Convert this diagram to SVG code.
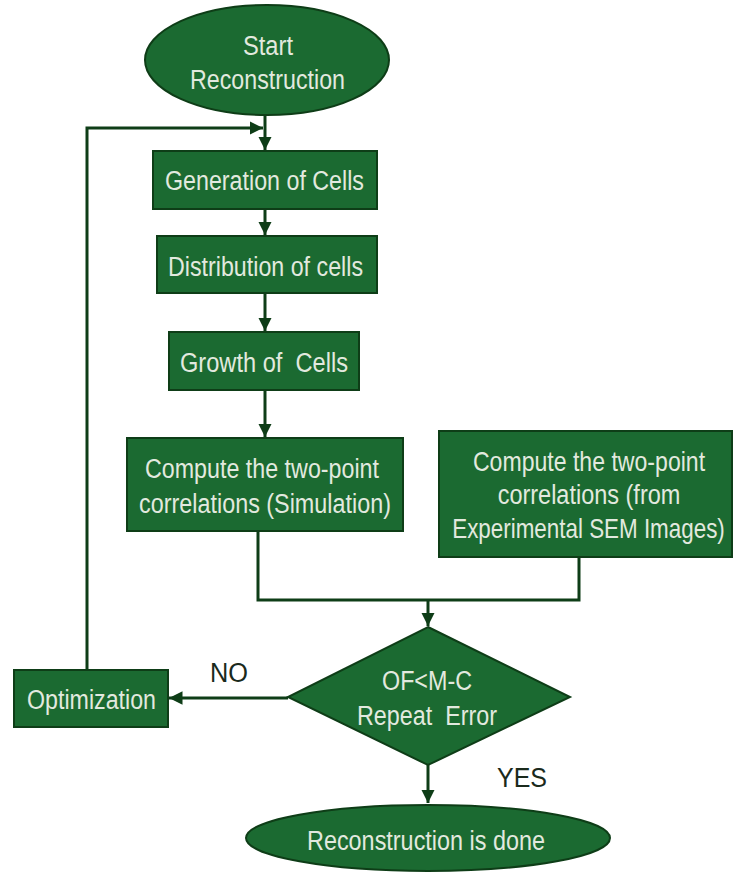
<svg xmlns="http://www.w3.org/2000/svg" width="736" height="873" viewBox="0 0 736 873">
<style>
.n{fill:#1b6a31;stroke:#0e3d17;stroke-width:2}
.t{font-family:"Liberation Sans",Arial,sans-serif;font-size:27px;fill:#e2e9df;text-anchor:middle}
.l{font-family:"Liberation Sans",Arial,sans-serif;font-size:27px;fill:#1a2a1c;text-anchor:middle}
.c{fill:none;stroke:#0e3d17;stroke-width:3}
</style>
<defs>
<marker id="ah" viewBox="0 0 10 10" refX="10" refY="5" markerWidth="4.5" markerHeight="4.5" orient="auto" markerUnits="strokeWidth">
<path d="M0,0 L10,5 L0,10 z" fill="#0e3d17"/>
</marker>
</defs>
<rect width="736" height="873" fill="#ffffff"/>
<g id="connectors">
<path class="c" d="M265,115 V150" marker-end="url(#ah)"/>
<path class="c" d="M87,670 V128 H263" marker-end="url(#ah)"/>
<path class="c" d="M265,209 V235" marker-end="url(#ah)"/>
<path class="c" d="M265,293 V331" marker-end="url(#ah)"/>
<path class="c" d="M265,390 V437" marker-end="url(#ah)"/>
<path class="c" d="M258,531 V600 H579 V557"/>
<path class="c" d="M428,600 V626" marker-end="url(#ah)"/>
<path class="c" d="M288,698 H169" marker-end="url(#ah)"/>
<path class="c" d="M428,765 V803" marker-end="url(#ah)"/>
</g>
<g id="start">
<ellipse class="n" cx="267" cy="60" rx="122" ry="55"/>
<text class="t" x="268" y="55" textLength="50" lengthAdjust="spacingAndGlyphs">Start</text>
<text class="t" x="267.5" y="89" textLength="155" lengthAdjust="spacingAndGlyphs">Reconstruction</text>
</g>
<g id="generation">
<rect class="n" x="153" y="151" width="224" height="58"/>
<text class="t" x="264.5" y="190" textLength="199" lengthAdjust="spacingAndGlyphs">Generation of Cells</text>
</g>
<g id="distribution">
<rect class="n" x="157" y="236" width="220" height="57"/>
<text class="t" x="265.5" y="276" textLength="195" lengthAdjust="spacingAndGlyphs">Distribution of cells</text>
</g>
<g id="growth">
<rect class="n" x="169" y="332" width="190" height="58"/>
<text class="t" x="264" y="372" textLength="168" lengthAdjust="spacingAndGlyphs" xml:space="preserve">Growth of  Cells</text>
</g>
<g id="compute-sim">
<rect class="n" x="127" y="438" width="276" height="93"/>
<text class="t" x="262" y="478" textLength="234" lengthAdjust="spacingAndGlyphs">Compute the two-point</text>
<text class="t" x="265" y="513" textLength="252" lengthAdjust="spacingAndGlyphs">correlations (Simulation)</text>
</g>
<g id="compute-exp">
<rect class="n" x="439" y="431" width="293" height="126"/>
<text class="t" transform="translate(589,471) scale(0.855,1)">Compute the two-point</text>
<text class="t" transform="translate(589,504) scale(0.87,1)">correlations (from</text>
<text class="t" transform="translate(588.5,538) scale(0.83,1)">Experimental SEM Images)</text>
</g>
<g id="decision">
<polygon class="n" points="428,627 570,697 428,765 288,697"/>
<text class="t" x="427" y="690" textLength="90" lengthAdjust="spacingAndGlyphs">OF&lt;M-C</text>
<text class="t" x="427" y="725" textLength="140" lengthAdjust="spacingAndGlyphs" xml:space="preserve">Repeat  Error</text>
</g>
<g id="optimization">
<rect class="n" x="14" y="670" width="154" height="57"/>
<text class="t" x="91.5" y="709" textLength="129" lengthAdjust="spacingAndGlyphs">Optimization</text>
</g>
<g id="end">
<ellipse class="n" cx="428" cy="838" rx="182" ry="33"/>
<text class="t" x="426" y="850" textLength="238" lengthAdjust="spacingAndGlyphs">Reconstruction is done</text>
</g>
<g id="labels">
<text class="l" x="229" y="682" textLength="38" lengthAdjust="spacingAndGlyphs">NO</text>
<text class="l" x="522" y="787" textLength="50" lengthAdjust="spacingAndGlyphs">YES</text>
</g>
</svg>
